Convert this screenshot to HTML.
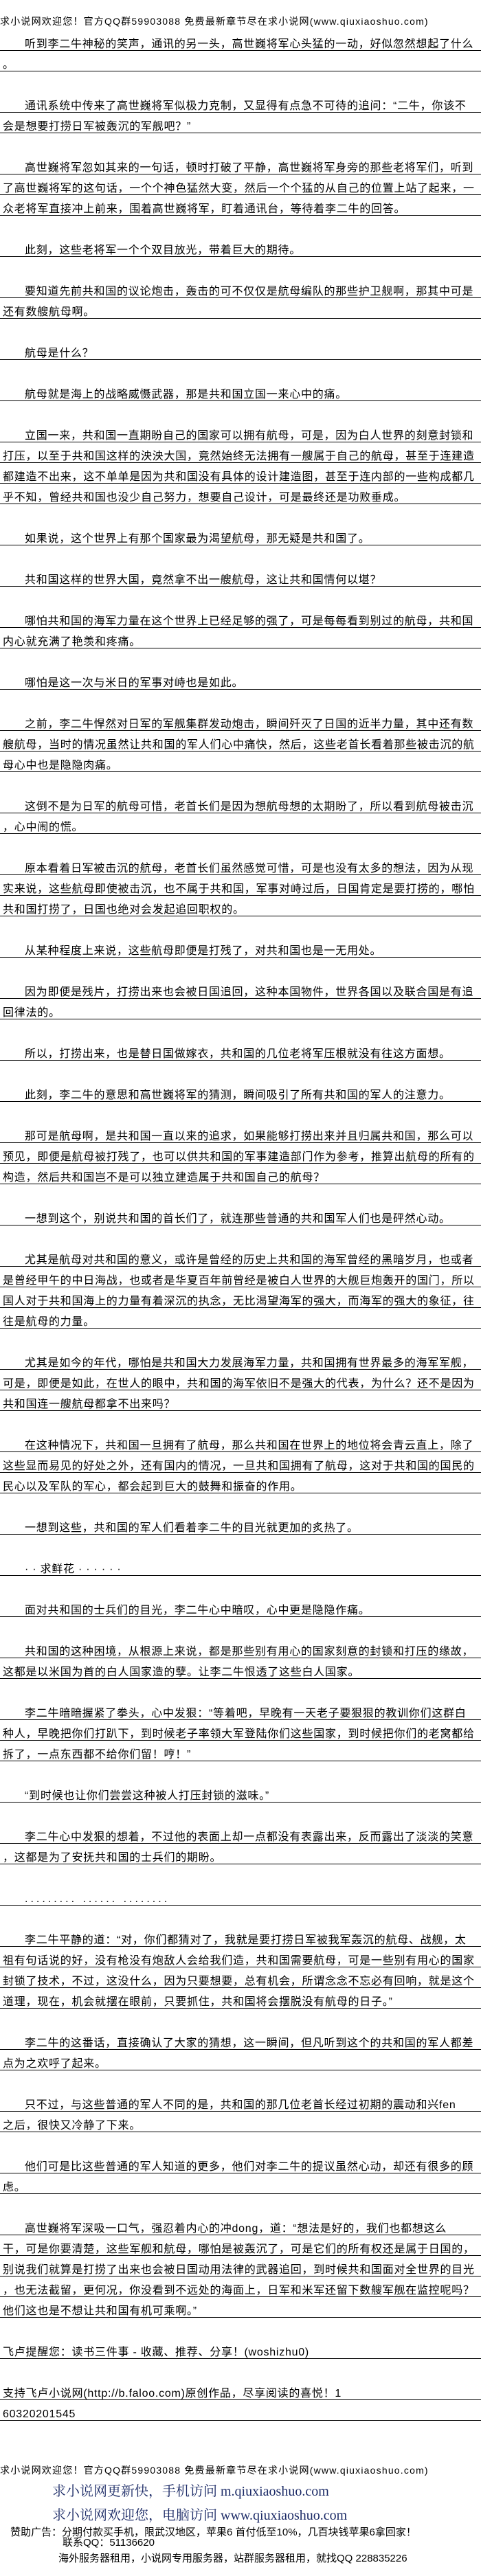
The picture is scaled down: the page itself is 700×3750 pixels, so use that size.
<!DOCTYPE html>
<html><head><meta charset="utf-8">
<style>
html,body{margin:0;padding:0;background:#fff;}
body{width:700px;height:3750px;position:relative;overflow:hidden;color:#000;
font-family:"Liberation Sans","Noto Sans CJK SC",sans-serif;}
.hdr{position:absolute;left:0;font-size:14px;line-height:18px;letter-spacing:1.2px;white-space:nowrap;}
#main{position:absolute;left:0;top:44px;width:700px;}
.p{margin-bottom:30px;}
.l{height:30px;box-sizing:border-box;border-bottom:1px solid #000;padding:13px 0 0 4px;
font-size:16px;line-height:16px;letter-spacing:0.75px;white-space:nowrap;overflow:hidden;}
.l.i{padding-left:36px;}
.dots{letter-spacing:4px;}
.blue{position:absolute;left:76px;font-family:"Liberation Serif","Noto Serif CJK SC",serif;font-size:20px;line-height:22px;color:#1b2a66;white-space:nowrap;}
.ad{position:absolute;font-size:15px;line-height:17px;white-space:nowrap;}
</style></head><body>
<div class="hdr" style="top:22px">求小说网欢迎您！官方QQ群59903088 免费最新章节尽在求小说网(www.qiuxiaoshuo.com)</div>
<div id="main">
<div class="p"><div class="l i">听到李二牛神秘的笑声，通讯的另一头，高世巍将军心头猛的一动，好似忽然想起了什么</div><div class="l">。</div></div>
<div class="p"><div class="l i">通讯系统中传来了高世巍将军似极力克制，又显得有点急不可待的追问：“二牛，你该不</div><div class="l">会是想要打捞日军被轰沉的军舰吧？”</div></div>
<div class="p"><div class="l i">高世巍将军忽如其来的一句话，顿时打破了平静，高世巍将军身旁的那些老将军们，听到</div><div class="l">了高世巍将军的这句话，一个个神色猛然大变，然后一个个猛的从自己的位置上站了起来，一</div><div class="l">众老将军直接冲上前来，围着高世巍将军，盯着通讯台，等待着李二牛的回答。</div></div>
<div class="p"><div class="l i">此刻，这些老将军一个个双目放光，带着巨大的期待。</div></div>
<div class="p"><div class="l i">要知道先前共和国的议论炮击，轰击的可不仅仅是航母编队的那些护卫舰啊，那其中可是</div><div class="l">还有数艘航母啊。</div></div>
<div class="p"><div class="l i">航母是什么？</div></div>
<div class="p"><div class="l i">航母就是海上的战略威慑武器，那是共和国立国一来心中的痛。</div></div>
<div class="p"><div class="l i">立国一来，共和国一直期盼自己的国家可以拥有航母，可是，因为白人世界的刻意封锁和</div><div class="l">打压，以至于共和国这样的泱泱大国，竟然始终无法拥有一艘属于自己的航母，甚至于连建造</div><div class="l">都建造不出来，这不单单是因为共和国没有具体的设计建造图，甚至于连内部的一些构成都几</div><div class="l">乎不知，曾经共和国也没少自己努力，想要自己设计，可是最终还是功败垂成。</div></div>
<div class="p"><div class="l i">如果说，这个世界上有那个国家最为渴望航母，那无疑是共和国了。</div></div>
<div class="p"><div class="l i">共和国这样的世界大国，竟然拿不出一艘航母，这让共和国情何以堪？</div></div>
<div class="p"><div class="l i">哪怕共和国的海军力量在这个世界上已经足够的强了，可是每每看到别过的航母，共和国</div><div class="l">内心就充满了艳羡和疼痛。</div></div>
<div class="p"><div class="l i">哪怕是这一次与米日的军事对峙也是如此。</div></div>
<div class="p"><div class="l i">之前，李二牛悍然对日军的军舰集群发动炮击，瞬间歼灭了日国的近半力量，其中还有数</div><div class="l">艘航母，当时的情况虽然让共和国的军人们心中痛快，然后，这些老首长看着那些被击沉的航</div><div class="l">母心中也是隐隐肉痛。</div></div>
<div class="p"><div class="l i">这倒不是为日军的航母可惜，老首长们是因为想航母想的太期盼了，所以看到航母被击沉</div><div class="l">，心中闹的慌。</div></div>
<div class="p"><div class="l i">原本看着日军被击沉的航母，老首长们虽然感觉可惜，可是也没有太多的想法，因为从现</div><div class="l">实来说，这些航母即使被击沉，也不属于共和国，军事对峙过后，日国肯定是要打捞的，哪怕</div><div class="l">共和国打捞了，日国也绝对会发起追回职权的。</div></div>
<div class="p"><div class="l i">从某种程度上来说，这些航母即便是打残了，对共和国也是一无用处。</div></div>
<div class="p"><div class="l i">因为即便是残片，打捞出来也会被日国追回，这种本国物件，世界各国以及联合国是有追</div><div class="l">回律法的。</div></div>
<div class="p"><div class="l i">所以，打捞出来，也是替日国做嫁衣，共和国的几位老将军压根就没有往这方面想。</div></div>
<div class="p"><div class="l i">此刻，李二牛的意思和高世巍将军的猜测，瞬间吸引了所有共和国的军人的注意力。</div></div>
<div class="p"><div class="l i">那可是航母啊，是共和国一直以来的追求，如果能够打捞出来并且归属共和国，那么可以</div><div class="l">预见，即便是航母被打残了，也可以供共和国的军事建造部门作为参考，推算出航母的所有的</div><div class="l">构造，然后共和国岂不是可以独立建造属于共和国自己的航母？</div></div>
<div class="p"><div class="l i">一想到这个，别说共和国的首长们了，就连那些普通的共和国军人们也是砰然心动。</div></div>
<div class="p"><div class="l i">尤其是航母对共和国的意义，或许是曾经的历史上共和国的海军曾经的黑暗岁月，也或者</div><div class="l">是曾经甲午的中日海战，也或者是华夏百年前曾经是被白人世界的大舰巨炮轰开的国门，所以</div><div class="l">国人对于共和国海上的力量有着深沉的执念，无比渴望海军的强大，而海军的强大的象征，往</div><div class="l">往是航母的力量。</div></div>
<div class="p"><div class="l i">尤其是如今的年代，哪怕是共和国大力发展海军力量，共和国拥有世界最多的海军军舰，</div><div class="l">可是，即便是如此，在世人的眼中，共和国的海军依旧不是强大的代表，为什么？还不是因为</div><div class="l">共和国连一艘航母都拿不出来吗？</div></div>
<div class="p"><div class="l i">在这种情况下，共和国一旦拥有了航母，那么共和国在世界上的地位将会青云直上，除了</div><div class="l">这些显而易见的好处之外，还有国内的情况，一旦共和国拥有了航母，这对于共和国的国民的</div><div class="l">民心以及军队的军心，都会起到巨大的鼓舞和振奋的作用。</div></div>
<div class="p"><div class="l i">一想到这些，共和国的军人们看着李二牛的目光就更加的炙热了。</div></div>
<div class="p"><div class="l i">·&nbsp;·&nbsp;求鲜花&nbsp;·&nbsp;·&nbsp;·&nbsp;·&nbsp;·&nbsp;·</div></div>
<div class="p"><div class="l i">面对共和国的士兵们的目光，李二牛心中暗叹，心中更是隐隐作痛。</div></div>
<div class="p"><div class="l i">共和国的这种困境，从根源上来说，都是那些别有用心的国家刻意的封锁和打压的缘故，</div><div class="l">这都是以米国为首的白人国家造的孽。让李二牛恨透了这些白人国家。</div></div>
<div class="p"><div class="l i">李二牛暗暗握紧了拳头，心中发狠：“等着吧，早晚有一天老子要狠狠的教训你们这群白</div><div class="l">种人，早晚把你们打趴下，到时候老子率领大军登陆你们这些国家，到时候把你们的老窝都给</div><div class="l">拆了，一点东西都不给你们留！哼！”</div></div>
<div class="p"><div class="l i">“到时候也让你们尝尝这种被人打压封锁的滋味。”</div></div>
<div class="p"><div class="l i">李二牛心中发狠的想着，不过他的表面上却一点都没有表露出来，反而露出了淡淡的笑意</div><div class="l">，这都是为了安抚共和国的士兵们的期盼。</div></div>
<div class="p"><div class="l i dots">......... ...... ........</div></div>
<div class="p"><div class="l i">李二牛平静的道：“对，你们都猜对了，我就是要打捞日军被我军轰沉的航母、战舰，太</div><div class="l">祖有句话说的好，没有枪没有炮敌人会给我们造，共和国需要航母，可是一些别有用心的国家</div><div class="l">封锁了技术，不过，这没什么，因为只要想要，总有机会，所谓念念不忘必有回响，就是这个</div><div class="l">道理，现在，机会就摆在眼前，只要抓住，共和国将会摆脱没有航母的日子。”</div></div>
<div class="p"><div class="l i">李二牛的这番话，直接确认了大家的猜想，这一瞬间，但凡听到这个的共和国的军人都差</div><div class="l">点为之欢呼了起来。</div></div>
<div class="p"><div class="l i">只不过，与这些普通的军人不同的是，共和国的那几位老首长经过初期的震动和兴fen</div><div class="l">之后，很快又冷静了下来。</div></div>
<div class="p"><div class="l i">他们可是比这些普通的军人知道的更多，他们对李二牛的提议虽然心动，却还有很多的顾</div><div class="l">虑。</div></div>
<div class="p"><div class="l i">高世巍将军深吸一口气，强忍着内心的冲dong，道：“想法是好的，我们也都想这么</div><div class="l">干，可是你要清楚，这些军舰和航母，哪怕是被轰沉了，可是它们的所有权还是属于日国的，</div><div class="l">别说我们就算是打捞了出来也会被日国动用法律的武器追回，到时候共和国面对全世界的目光</div><div class="l">，也无法截留，更何况，你没看到不远处的海面上，日军和米军还留下数艘军舰在监控呢吗？</div><div class="l">他们这也是不想让共和国有机可乘啊。”</div></div>
<div class="p"><div class="l">飞卢提醒您：读书三件事 - 收藏、推荐、分享！(woshizhu0)</div></div>
<div class="p"><div class="l">支持飞卢小说网(http://b.faloo.com)原创作品，尽享阅读的喜悦！1</div><div class="l">60320201545</div></div>
</div>
<div class="hdr" style="top:3587px">求小说网欢迎您！官方QQ群59903088 免费最新章节尽在求小说网(www.qiuxiaoshuo.com)</div>
<div class="blue" style="top:3616px">求小说网更新快，手机访问 m.qiuxiaoshuo.com</div>
<div class="blue" style="top:3651px">求小说网欢迎您，电脑访问 www.qiuxiaoshuo.com</div>
<div class="ad" style="left:15px;top:3678px">赞助广告：分期付款买手机，限武汉地区，苹果6 首付低至10%，几百块钱苹果6拿回家！</div>
<div class="ad" style="left:91px;top:3693px">联系QQ：51136620</div>
<div class="ad" style="left:85px;top:3716px">海外服务器租用，小说网专用服务器，站群服务器租用，就找QQ 228835226</div>
</body></html>
